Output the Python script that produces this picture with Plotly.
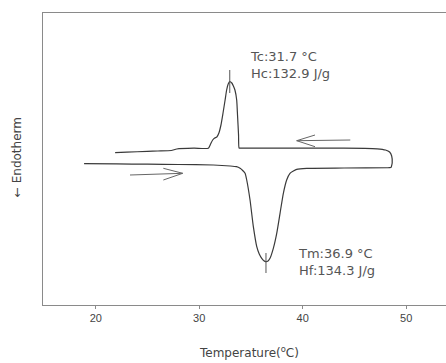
import plotly.graph_objects as go

# Cooling scan (right -> left), temperature in C, heat flow in arbitrary units
cool_T = [48.55, 48.65, 48.6, 48.4, 48.0, 47.2, 46.0, 42.0, 38.0, 35.0, 34.0, 33.85,
          33.8, 33.7, 33.62, 33.45, 33.3, 33.15, 32.95, 32.8, 32.65, 32.5, 32.3,
          32.1, 31.9, 31.7, 31.5, 31.3, 31.1, 30.88, 29.5, 27.83, 27.3, 26.0,
          25.0, 23.0, 21.87]
cool_H = [137.5, 142, 149, 153, 155, 156.2, 156.7, 156.8, 156.8, 156.8, 156.8, 157,
          170, 190, 205, 215, 219, 222, 223.3, 221, 215, 205, 192,
          180, 172, 168, 167, 165, 161, 156.8, 156.8, 156, 154.5, 154,
          153.6, 152.9, 152.3]

# Heating scan (left -> right)
heat_T = [18.87, 22.0, 25.0, 28.0, 31.36, 33.0, 33.6, 33.95, 34.2, 34.43, 34.59, 34.91,
          35.23, 35.56, 35.8, 36.04, 36.25, 36.43, 36.65, 36.84, 37.16, 37.49,
          37.81, 38.13, 38.45, 38.77, 39.1, 39.42, 40.39, 44.0, 48.3, 48.55]
heat_H = [141.3, 141.1, 140.8, 140.5, 140.0, 139.0, 138.3, 136.7, 134.5, 131.7, 125.0, 105.0,
          78.3, 58.3, 51.0, 46.7, 44.2, 43.3, 44.0, 46.7, 56.7, 71.7,
          91.7, 111.7, 125.0, 131.7, 134.0, 135.7, 136.7, 137.0, 137.3, 137.5]

# Peak markers
tc_peak_T = [32.95, 32.95]
tc_peak_H = [235, 212]
tm_peak_T = [36.45, 36.45]
tm_peak_H = [52, 32]

# Direction arrows (shaft start, tip, barb1, gap, tip, barb2)
cool_arrow_T = [44.6, 39.42, 41.19, None, 39.42, 41.19]
cool_arrow_H = [165.0, 164.3, 170.0, None, 164.3, 158.3]
heat_arrow_T = [23.31, 28.4, 26.53, None, 28.4, 26.53]
heat_arrow_H = [130.0, 131.7, 136.7, None, 131.7, 125.0]

x_ticks = [20, 30, 40, 50]

line_col = "#3a3a3a"
fig = go.Figure()
fig.add_trace(go.Scatter(x=cool_T, y=cool_H, mode="lines",
                         line=dict(color=line_col, width=1.2, shape="spline", smoothing=0.5)))
fig.add_trace(go.Scatter(x=heat_T, y=heat_H, mode="lines",
                         line=dict(color=line_col, width=1.2, shape="spline", smoothing=0.5)))
for xs, ys in [(tc_peak_T, tc_peak_H), (tm_peak_T, tm_peak_H)]:
    fig.add_trace(go.Scatter(x=xs, y=ys, mode="lines", line=dict(color="#555", width=1)))
for xs, ys in [(cool_arrow_T, cool_arrow_H), (heat_arrow_T, heat_arrow_H)]:
    fig.add_trace(go.Scatter(x=xs, y=ys, mode="lines", line=dict(color="#666", width=1),
                             connectgaps=False))

txt_font = dict(family="DejaVu Sans, Arial", size=13, color="#555")
annots = [
    dict(x=34.72, y=240.5, text="Tc:31.7 °C<br>Hc:132.9 J/g"),
    dict(x=39.35, y=43.5, text="Tm:36.9 °C<br>Hf:134.3 J/g"),
]
for a in annots:
    fig.add_annotation(x=a["x"], y=a["y"], text=a["text"], showarrow=False,
                       xanchor="left", yanchor="middle", align="left", font=txt_font)

fig.add_annotation(x=0.51, xref="paper", y=-0.162, yref="paper",
                   text="Temperature(<sup>o</sup>C)", showarrow=False,
                   xanchor="center", yanchor="middle",
                   font=dict(family="DejaVu Sans, Arial", size=12, color="#444"))
fig.add_annotation(x=-0.064, xref="paper", y=0.507, yref="paper",
                   text="← Endotherm", textangle=-90, showarrow=False,
                   xanchor="center", yanchor="middle",
                   font=dict(family="DejaVu Sans, Arial", size=12, color="#444"))

fig.update_layout(
    width=446, height=363,
    margin=dict(l=43, r=0, t=13, b=58, autoexpand=False),
    paper_bgcolor="white", plot_bgcolor="white",
    showlegend=False,
    xaxis=dict(range=[14.9, 53.85], tickvals=x_ticks, showgrid=False, zeroline=False,
               showline=True, mirror=True, linecolor="#8a8a8a", linewidth=1,
               ticks="outside", ticklen=3, tickcolor="#8a8a8a",
               tickfont=dict(family="Liberation Sans, Arial", size=11, color="#444")),
    yaxis=dict(range=[0, 292], showticklabels=False, showgrid=False, zeroline=False,
               showline=True, linecolor="#8a8a8a", linewidth=1, ticks=""),
)
fig.write_html("out.html", config={"displayModeBar": False},
               post_script="document.body.style.margin='0px';document.body.style.overflow='hidden';")
